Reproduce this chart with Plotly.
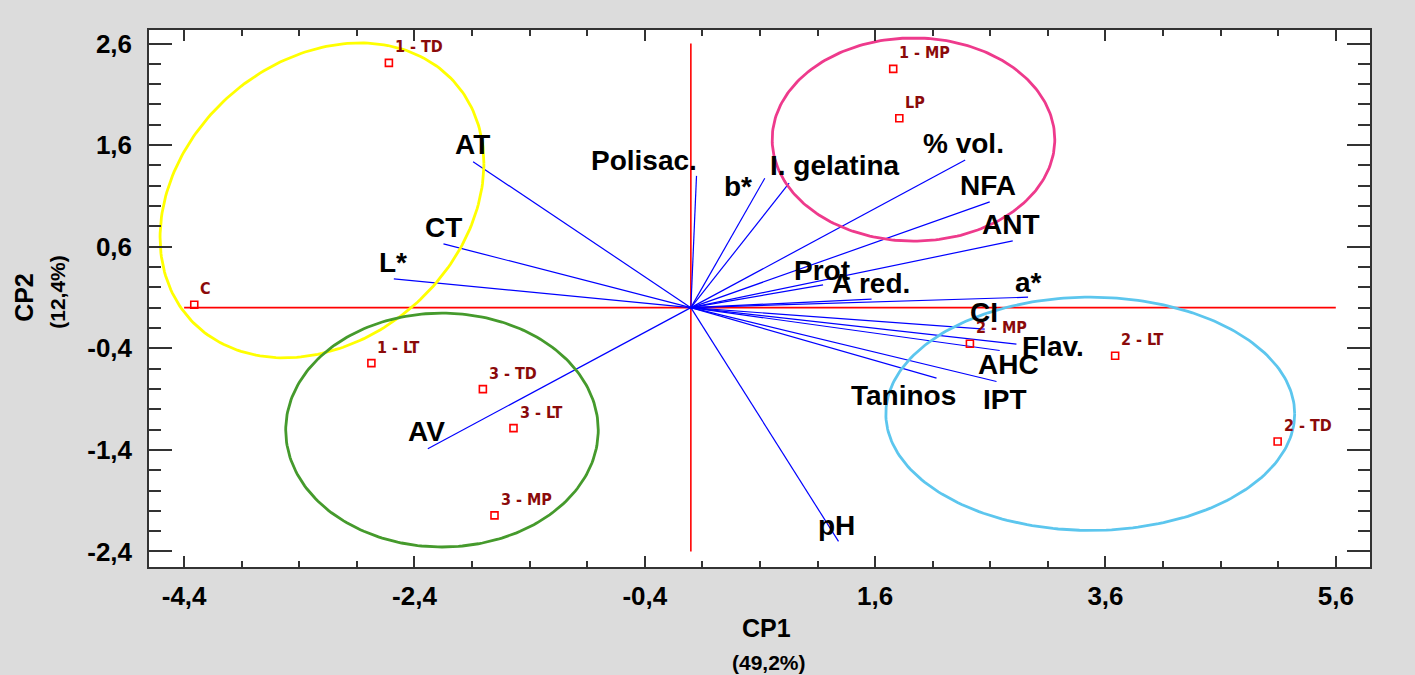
import numpy as np
import plotly.graph_objects as go

# ---------------- data ----------------
obs_labels = ["1 - TD", "C", "1 - MP", "LP", "2 - MP", "2 - LT", "2 - TD",
              "1 - LT", "3 - TD", "3 - LT", "3 - MP"]
obs_cp1 = [-2.622, -4.312, 1.757, 1.810, 2.423, 3.684, 5.095,
           -2.774, -1.806, -1.540, -1.705]
obs_cp2 = [2.409, 0.028, 2.350, 1.864, -0.356, -0.474, -1.317,
           -0.546, -0.802, -1.186, -2.045]

var_labels = ["AT", "CT", "L*", "AV", "Polisac.", "b*", "I. gelatina", "% vol.",
              "NFA", "ANT", "Prot", "A red.", "a*", "CI", "Flav.", "AHC", "IPT",
              "Taninos", "pH"]
var_cp1 = [-1.891, -2.148, -2.579, -2.284, 0.049, 0.642, 0.853, 2.382,
           2.595, 2.795, 1.148, 1.569, 2.928, 2.552, 2.827, 2.682, 2.654,
           2.133, 1.282]
var_cp2 = [1.437, 0.628, 0.283, -1.389, 1.297, 1.274, 1.225, 1.454,
           1.041, 0.657, 0.224, 0.084, 0.103, -0.212, -0.359, -0.422, -0.727,
           -0.694, -2.301]

x_tickvals = [-4.4, -2.4, -0.4, 1.6, 3.6, 5.6]
x_ticktext = ["-4,4", "-2,4", "-0,4", "1,6", "3,6", "5,6"]
y_tickvals = [-2.4, -1.4, -0.4, 0.6, 1.6, 2.6]
y_ticktext = ["-2,4", "-1,4", "-0,4", "0,6", "1,6", "2,6"]

# group ellipses (center x, center y, half-width, half-height, tilt offset)
group_ellipses = [
    dict(cx=-3.203, cy=1.056, hw=1.406, hh=1.550, tilt=0.364, color="#ffff00"),
    dict(cx=1.933, cy=1.655, hw=1.227, hh=1.000, tilt=0.0, color="#ee3a8c"),
    dict(cx=-2.161, cy=-1.205, hw=1.357, hh=1.151, tilt=0.0, color="#459a2c"),
    dict(cx=3.468, cy=-1.045, hw=1.775, hh=1.148, tilt=0.0, color="#5cc6ee"),
]

# label pixel offsets for variable labels (style)
var_label_shift = {
    "AT": (-1, 17), "CT": (0, 16), "L*": (-1, 16), "AV": (-1, 17),
    "Polisac.": (-53, 15), "b*": (-27, -8), "I. gelatina": (46, 18),
    "% vol.": (-2, 16), "NFA": (-2, 16), "ANT": (-2, 16), "Prot": (-1, 14),
    "A red.": (-1, 16), "a*": (0, 15), "CI": (-1, 17), "Flav.": (37, -2),
    "AHC": (9, -14), "IPT": (8, -18), "Taninos": (-33, -17), "pH": (-2, 16),
}

FONT = "Liberation Sans, Arial, sans-serif"
NARROW = "Liberation Sans Narrow, Arial Narrow, DejaVu Sans Condensed, sans-serif"

fig = go.Figure()

# reference cross lines at zero
fig.add_trace(go.Scatter(x=[min(x_tickvals), max(x_tickvals)], y=[0, 0], mode="lines",
                         line=dict(color="#ff0000", width=1.6), hoverinfo="skip",
                         showlegend=False))
fig.add_trace(go.Scatter(x=[0, 0], y=[min(y_tickvals), max(y_tickvals)], mode="lines",
                         line=dict(color="#ff0000", width=1.6), hoverinfo="skip",
                         showlegend=False))

# loading vectors
vx, vy = [], []
for a, b in zip(var_cp1, var_cp2):
    vx += [0, a, None]
    vy += [0, b, None]
fig.add_trace(go.Scatter(x=vx, y=vy, mode="lines", line=dict(color="#0000ff", width=1.2),
                         hoverinfo="skip", showlegend=False))

# ellipses
t = np.linspace(0, 2 * np.pi, 241)
for e in group_ellipses:
    ex = e["cx"] + e["hw"] * np.cos(t)
    s = np.sqrt(max(e["hh"] ** 2 - e["tilt"] ** 2, 1e-9))
    ey = e["cy"] + e["tilt"] * np.cos(t) + s * np.sin(t)
    fig.add_trace(go.Scatter(x=ex, y=ey, mode="lines", line=dict(color=e["color"], width=2.8),
                             hoverinfo="skip", showlegend=False))

# observations
fig.add_trace(go.Scatter(x=obs_cp1, y=obs_cp2, mode="markers",
                         marker=dict(symbol="square-open", size=7, color="#ff0000",
                                     line=dict(width=1.6, color="#ff0000")),
                         showlegend=False))

annotations = []
for lab, a, b in zip(obs_labels, obs_cp1, obs_cp2):
    annotations.append(dict(x=a, y=b, xref="x", yref="y", text="<b>%s</b>" % lab,
                            showarrow=False, xanchor="left", yanchor="middle",
                            xshift=4, yshift=16,
                            font=dict(family=NARROW, size=16, color="#8b0a0a")))
for lab, a, b in zip(var_labels, var_cp1, var_cp2):
    dx, dy = var_label_shift[lab]
    annotations.append(dict(x=a, y=b, xref="x", yref="y", text="<b>%s</b>" % lab,
                            showarrow=False, xanchor="center", yanchor="middle",
                            xshift=dx, yshift=dy,
                            font=dict(family=FONT, size=28, color="#000000")))

# axis titles
annotations += [
    dict(x=0.506, y=-0.113, xref="paper", yref="paper", text="<b>CP1</b>", showarrow=False,
         xanchor="center", yanchor="middle", font=dict(family=FONT, size=25, color="#000")),
    dict(x=0.508, y=-0.178, xref="paper", yref="paper", text="<b>(49,2%)</b>", showarrow=False,
         xanchor="center", yanchor="middle", font=dict(family=FONT, size=21, color="#000")),
    dict(x=-0.1024, y=0.503, xref="paper", yref="paper", text="<b>CP2</b>", showarrow=False,
         textangle=-90, xanchor="center", yanchor="middle",
         font=dict(family=FONT, size=25, color="#000")),
    dict(x=-0.0756, y=0.512, xref="paper", yref="paper", text="<b>(12,4%)</b>", showarrow=False,
         textangle=-90, xanchor="center", yanchor="middle",
         font=dict(family=FONT, size=21, color="#000")),
]

axis_common = dict(showgrid=False, zeroline=False, showline=True, linecolor="#333333",
                   linewidth=1.5, mirror="ticks", ticks="inside", tickcolor="#333333",
                   tickwidth=1.5,
                   tickfont=dict(family=FONT, size=26, color="#000000", weight="bold"))

fig.update_layout(
    width=1415, height=675,
    margin=dict(l=149, r=45, t=30, b=108),
    paper_bgcolor="#dcdcdc", plot_bgcolor="#ffffff",
    annotations=annotations,
    xaxis=dict(range=[-4.705, 5.897], tickvals=x_tickvals, ticktext=x_ticktext,
               ticklen=11, ticklabelstandoff=5,
               minor=dict(tick0=-4.4, dtick=0.5, ticks="inside", ticklen=6,
                          tickcolor="#333333", tickwidth=1.5),
               **axis_common),
    yaxis=dict(range=[-2.553, 2.733], tickvals=y_tickvals, ticktext=y_ticktext,
               ticklen=23, ticklabelstandoff=10,
               minor=dict(tick0=-2.4, dtick=0.2, ticks="inside", ticklen=12,
                          tickcolor="#333333", tickwidth=1.5),
               **axis_common),
    showlegend=False,
)

fig.write_html("out.html",
               config={"displayModeBar": False},
               post_script="document.body.style.margin='0';document.body.style.overflow='hidden';")
